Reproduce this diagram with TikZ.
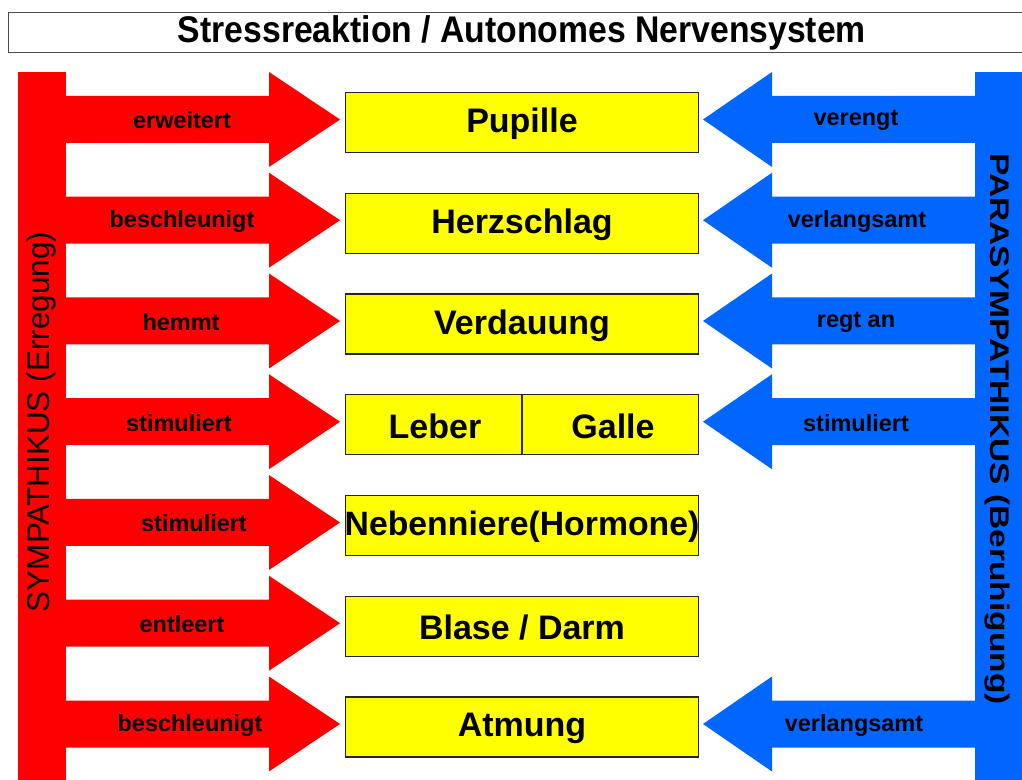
\documentclass[tikz,border=0pt]{standalone}
\usepackage{fontspec}
\setmainfont{Liberation Sans}
\definecolor{symred}{RGB}{255,0,0}
\definecolor{parablue}{RGB}{0,102,255}
\definecolor{organfill}{RGB}{255,255,0}
\begin{document}
\begin{tikzpicture}[x=0.75pt,y=-0.75pt,
  organ/.style={draw=black!85, line width=1.1pt, fill=organfill,
    minimum width=264.75pt, minimum height=45pt, inner sep=0pt,
    font=\fontsize{25.5}{30}\selectfont\bfseries},
  organtext/.style={inner sep=0pt, font=\fontsize{25.5}{30}\selectfont\bfseries},
  actlabel/.style={inner sep=0pt, font=\fontsize{17.6}{20}\selectfont\bfseries},
  titlebox/.style={draw=black!70, line width=1.1pt, fill=white,
    minimum width=766.5pt, minimum height=30pt, inner sep=0pt},
  titletext/.style={inner sep=0pt, font=\fontsize{25.3}{30}\selectfont\bfseries}]
\useasboundingbox (0,0) rectangle (1022,780);

% title
\node[titlebox, anchor=north west] (tbox) at (8,12) {};
\node[titletext] (title) at (522,33) {\scalebox{1}[1.1]{Stressreaktion / Autonomes Nervensystem}};

% sympathetic bar and arrows
\fill[symred] (18,72) rectangle (66,790);
\foreach \y/\lab/\lx [count=\i] in {119.5/erweitert/182, 220.25/beschleunigt/182,
    321/hemmt/181, 421.75/stimuliert/179, 522.5/stimuliert/194,
    623.25/entleert/182, 724/beschleunigt/190}{
  \fill[symred] (60,\y-23.5) -- (269,\y-23.5) -- (269,\y-47.5) -- (340,\y)
    -- (269,\y+47.5) -- (269,\y+23.5) -- (60,\y+23.5) -- cycle;
  \node[actlabel] (s\i) at (\lx,\y+1) {\lab};
}
\node[inner sep=0pt, rotate=90, font=\fontsize{23.6}{28}\selectfont] (symp) at (41,422)
  {SYMPATHIKUS (Erregung)};

% parasympathetic bar and arrows
\fill[parablue] (975,72) rectangle (1030,790);
\foreach \y/\lab/\lx [count=\i] in {119.5/verengt/856, 220.25/verlangsamt/857,
    321/regt an/856, 421.75/stimuliert/856, 724/verlangsamt/854}{
  \fill[parablue] (981,\y-23.5) -- (772,\y-23.5) -- (772,\y-47.5) -- (703,\y)
    -- (772,\y+47.5) -- (772,\y+23.5) -- (981,\y+23.5) -- cycle;
  \node[actlabel] (p\i) at (\lx,\y+1) {\lab};
}
\node[inner sep=0pt, rotate=-90, font=\fontsize{20.2}{24}\selectfont\bfseries] (para) at (997,429)
  {\scalebox{1.245}[1]{PARASYMPATHIKUS (Beruhigung)}};

% organ boxes
\node[organ] (pupille) at (522,122.5) {};
\node[organtext] at (522,124) {Pupille};
\node[organ] (herz) at (522,223.25) {};
\node[organtext] at (522,224.75) {Herzschlag};
\node[organ] (verdauung) at (522,324) {};
\node[organtext] at (522,325.5) {Verdauung};
\node[organ] (lebergalle) at (522,424.75) {};
\draw[black!85, line width=1.5pt] (lebergalle.north) -- (lebergalle.south);
\node[organtext] (leber) at (435,426.25) {Leber};
\node[organtext] (galle) at (613,426.25) {Galle};
\node[organ] (neben) at (522,525.5) {};
\node[organtext] at (522,527) {\resizebox{266pt}{!}{Nebenniere(Hormone)}};
\node[organ] (blase) at (522,626.25) {};
\node[organtext] at (522,627.75) {Blase / Darm};
\node[organ] (atmung) at (522,727) {};
\node[organtext] at (522,728.5) {Atmung};
\end{tikzpicture}
\end{document}
